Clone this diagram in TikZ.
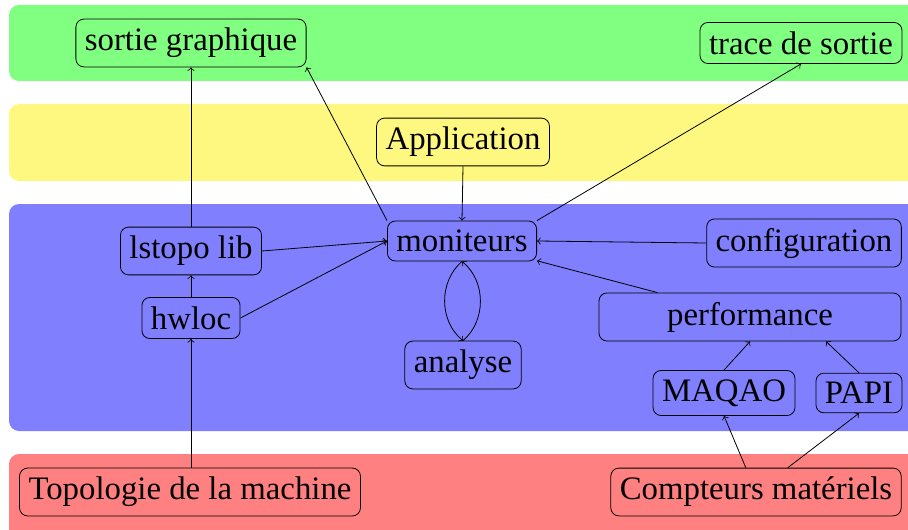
\documentclass[tikz,border=0pt]{standalone}
\usepackage{fontspec}
\setmainfont{Liberation Serif}
\begin{document}
\begin{tikzpicture}[x=0.5pt,y=-0.5pt,>=to,
  box/.style={draw, rounded corners=4pt, font=\fontsize{16.4}{18}\selectfont, inner sep=4.5pt},
  band/.style={rounded corners=5pt}]
\useasboundingbox (0,0) rectangle (908,529);
\clip (0,0) rectangle (908,529);
\fill[band, green!50]  (9,5)   rectangle (940,81);
\fill[band, yellow!50] (9,104) rectangle (940,181);
\fill[band, blue!50]   (9,204) rectangle (940,431);
\fill[band, red!50]    (9,454) rectangle (940,560);

\node[box] (sortie) at (191,43) {sortie graphique};
\node[box] (trace) at (801,43) {trace de sortie};
\node[box] (app) at (463,142) {Application};
\node[box] (mon) at (462,241) {moniteurs};
\node[box] (lstopo) at (191,251) {lstopo lib};
\node[box] (hwloc) at (191,318) {hwloc};
\node[box] (ana) at (463,365) {analyse};
\node[box] (conf) at (804,243) {configuration};
\node[box, minimum width=151pt] (perf) at (750,317) {performance};
\node[box] (maqao) at (724,393) {MAQAO};
\node[box] (papi) at (859,393) {PAPI};
\node[box] (topo) at (190,492) {Topologie de la machine};
\node[box] (cpt) at (756,492) {Compteurs matériels};

\draw[->] (hwloc.south |- topo.north) -- (hwloc.south);
\draw[->] (hwloc.north) -- (lstopo.south);
\draw[->] (lstopo.north) -- (sortie.south);
\draw[->] (mon.north west) -- (sortie.south east);
\draw[->] (mon.north east) -- (trace.south);
\draw[->] (app.south) -- (mon.north);
\draw[->] (lstopo.east) -- (mon.west);
\draw[->] (hwloc.east) -- (mon.west);
\draw[->] (conf.west) -- (mon.east);
\draw[->] (perf) -- (mon);
\draw[->] (mon.south) to[bend right=50] (ana.north);
\draw[->] (ana.north) to[bend right=50] (mon.south);
\draw[->] (maqao.north) -- (perf.south);
\draw[->] (papi.north) -- ([xshift=38pt]perf.south);
\draw[->] (cpt) -- (maqao.south);
\draw[->] (cpt) -- (papi.south);
\end{tikzpicture}
\end{document}
